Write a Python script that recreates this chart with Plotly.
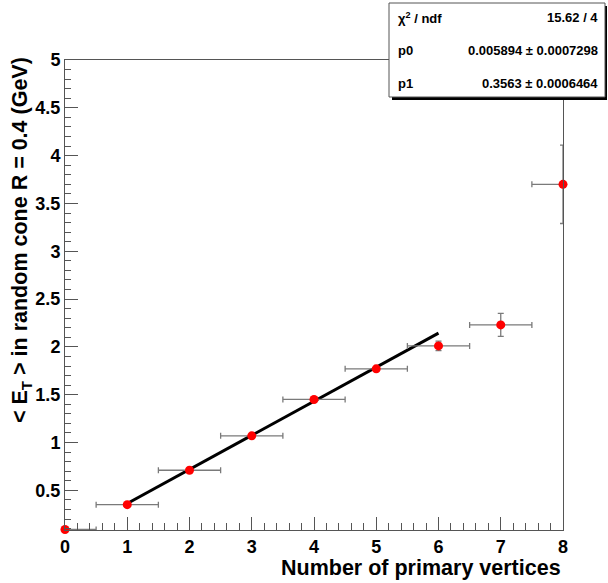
import plotly.graph_objects as go

# ---- data ----
n_vertices = [0, 1, 2, 3, 4, 5, 6, 7, 8]
mean_et = [0.09, 0.35, 0.71, 1.07, 1.45, 1.77, 2.01, 2.23, 3.70]
err_y = [0.0, 0.01, 0.01, 0.01, 0.015, 0.02, 0.05, 0.12, 0.41]
err_x_plus = [0.5, 0.5, 0.5, 0.5, 0.5, 0.5, 0.5, 0.5, 0.5]
err_x_minus = [0.0, 0.5, 0.5, 0.5, 0.5, 0.5, 0.5, 0.5, 0.5]

fit_p0 = 0.005894
fit_p1 = 0.3563
fit_range = [1, 6]
fit_y = [fit_p0 + fit_p1 * x for x in fit_range]

x_range = [0, 8]
y_range = [0.085, 5]
y_tick_values = [0.5, 1, 1.5, 2, 2.5, 3, 3.5, 4, 4.5, 5]
y_tick_labels = ["0.5", "1", "1.5", "2", "2.5", "3", "3.5", "4", "4.5", "5"]

stats_labels = ["χ<sup>2</sup> / ndf", "p0", "p1"]
stats_values = ["15.62 / 4", "0.005894 ± 0.0007298", "0.3563 ± 0.0006464"]

# ---- layout geometry (pixels) ----
W, H = 608, 583
L, R, T, B = 65, 563, 60, 530


def px(xp):
    return (xp - L) / (R - L)


def py(yp):
    return (B - yp) / (B - T)


FONT = "Liberation Sans, Arial, Helvetica, sans-serif"
AX = "#555555"

fig = go.Figure()

fig.add_trace(go.Scatter(
    x=fit_range, y=fit_y, mode="lines",
    line=dict(color="black", width=3), showlegend=False, hoverinfo="skip",
))

fig.add_trace(go.Scatter(
    x=n_vertices, y=mean_et, mode="markers",
    marker=dict(color="#ff0000", size=9),
    error_x=dict(type="data", symmetric=False, array=err_x_plus, arrayminus=err_x_minus,
                 color="#7a7a7a", thickness=1.3, width=3),
    error_y=dict(type="data", array=err_y, color="#7a7a7a", thickness=1.3, width=3),
    cliponaxis=False, showlegend=False,
))

axis_common = dict(
    showgrid=False, zeroline=False, showline=True, mirror=True,
    linecolor=AX, linewidth=1, ticks="inside", tickcolor=AX,
    tickwidth=1, ticklen=13,
    tickfont=dict(family=FONT, size=18, color="black", weight="bold"),
)

fig.update_xaxes(
    range=x_range, dtick=1, tick0=0,
    minor=dict(dtick=0.2, tick0=0, ticks="inside", ticklen=7, tickcolor=AX),
    **axis_common,
)
fig.update_yaxes(
    range=y_range, tickvals=y_tick_values, ticktext=y_tick_labels,
    minor=dict(dtick=0.1, tick0=0, ticks="inside", ticklen=6, tickcolor=AX),
    **axis_common,
)

annotations = [
    dict(text="Number of primary vertices", xref="paper", yref="paper",
         x=1.0, y=py(568), xanchor="right", yanchor="middle", showarrow=False,
         font=dict(family=FONT, size=21.5, color="black", weight="bold")),
    dict(text="< E<sub>T</sub> > in random cone R = 0.4 (GeV)", xref="paper", yref="paper",
         x=px(22), y=py(55), xanchor="center", yanchor="top", textangle=-90, showarrow=False,
         font=dict(family=FONT, size=21.5, color="black", weight="bold")),
]

rows_y = [18, 51, 83]
for lab, val, yy in zip(stats_labels, stats_values, rows_y):
    annotations.append(dict(text=lab, xref="paper", yref="paper", x=px(396), y=py(yy),
                            xanchor="left", yanchor="middle", showarrow=False,
                            font=dict(family=FONT, size=13, color="black", weight="bold")))
    annotations.append(dict(text=val, xref="paper", yref="paper", x=px(600), y=py(yy),
                            xanchor="right", yanchor="middle", showarrow=False,
                            font=dict(family=FONT, size=13, color="black", weight="bold")))

shapes = [
    dict(type="rect", xref="paper", yref="paper", x0=px(392), x1=px(607), y0=py(100), y1=py(6),
         fillcolor="black", line=dict(width=0), layer="above"),
    dict(type="rect", xref="paper", yref="paper", x0=px(389), x1=px(605), y0=py(97), y1=py(3),
         fillcolor="white", line=dict(color=AX, width=1), layer="above"),
]

fig.update_layout(
    width=W, height=H,
    margin=dict(l=L, r=W - R, t=T, b=H - B),
    paper_bgcolor="white", plot_bgcolor="white",
    annotations=annotations, shapes=shapes,
    font=dict(family=FONT),
)

fig.write_html("out.html", config={"displayModeBar": False},
               post_script="document.body.style.margin='0px';")
